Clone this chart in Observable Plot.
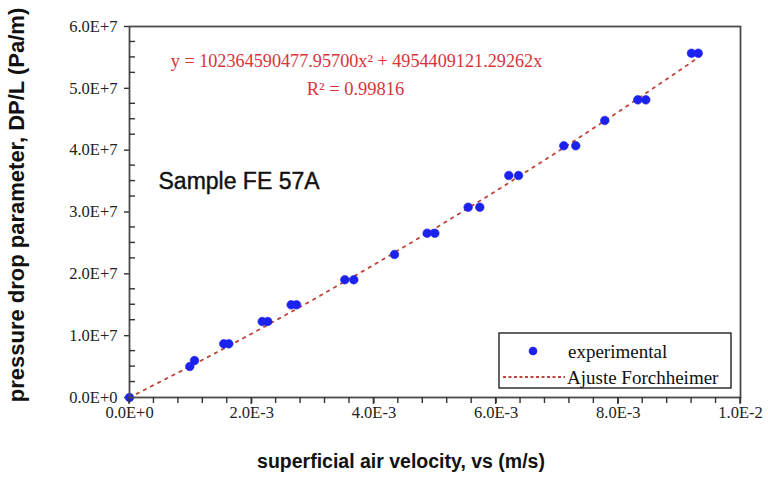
<!DOCTYPE html>
<html>
<head>
<meta charset="utf-8">
<script src="https://cdn.jsdelivr.net/npm/d3@7"></script>
<script src="https://cdn.jsdelivr.net/npm/@observablehq/plot@0.6"></script>
<style>
  html, body { margin: 0; padding: 0; background: white; }
</style>
</head>
<body>
<div id="chart"></div>
<script>
// experimental points: superficial air velocity (m/s) and pressure drop parameter (Pa/m)
const velocity = [0, 0.000987, 0.001064, 0.001543, 0.001625, 0.002172, 0.002263, 0.002646, 0.002733,
  0.003524, 0.003671, 0.004337, 0.004872, 0.004997, 0.005543, 0.005733, 0.006208, 0.006367,
  0.007108, 0.007304, 0.007779, 0.008319, 0.008450, 0.009198, 0.009308];
const pressureDrop = [0, 5.01e6, 5.98e6, 8.68e6, 8.68e6, 1.229e7, 1.229e7, 1.499e7, 1.499e7,
  1.904e7, 1.904e7, 2.313e7, 2.657e7, 2.657e7, 3.078e7, 3.078e7, 3.590e7, 3.590e7,
  4.071e7, 4.071e7, 4.480e7, 4.814e7, 4.814e7, 5.568e7, 5.568e7];

// Forchheimer fit curve
const fitVelocity = [0, 0.001, 0.002, 0.003, 0.004, 0.005, 0.006, 0.007, 0.008, 0.009, 0.0094];
const fitPressure = [0, 5.06e6, 1.032e7, 1.578e7, 2.146e7, 2.733e7, 3.341e7, 3.970e7, 4.619e7, 5.288e7, 5.562e7];

// axes
const xTicks = [0, 0.002, 0.004, 0.006, 0.008, 0.01];
const xTickLabels = ["0.0E+0", "2.0E-3", "4.0E-3", "6.0E-3", "8.0E-3", "1.0E-2"];
const xMinorTicks = [0.0004, 0.0008, 0.0012, 0.0016, 0.0024, 0.0028, 0.0032, 0.0036, 0.0044, 0.0048, 0.0052, 0.0056,
  0.0064, 0.0068, 0.0072, 0.0076, 0.0084, 0.0088, 0.0092, 0.0096];
const yTicks = [0, 1e7, 2e7, 3e7, 4e7, 5e7, 6e7];
const yTickLabels = ["0.0E+0", "1.0E+7", "2.0E+7", "3.0E+7", "4.0E+7", "5.0E+7", "6.0E+7"];
const yMinorTicks = [2.5e6, 5e6, 7.5e6, 1.25e7, 1.5e7, 1.75e7, 2.25e7, 2.5e7, 2.75e7, 3.25e7, 3.5e7, 3.75e7,
  4.25e7, 4.5e7, 4.75e7, 5.25e7, 5.5e7, 5.75e7];

const xTitle = "superficial air velocity, vs (m/s)";
const yTitle = "pressure drop parameter, DP/L (Pa/m)";
const sampleLabel = "Sample FE 57A";
const equation = "y = 102364590477.95700x² + 4954409121.29262x";
const rSquared = "R² = 0.99816";
const legendLabels = ["experimental", "Ajuste Forchheimer"];

const points = velocity.map((v, i) => ({v, p: pressureDrop[i]}));
const fit = fitVelocity.map((v, i) => ({v, p: fitPressure[i]}));

const dotColor = "#1c22ee";
const fitColor = "#c0443a";
const axisColor = "#333";
const sansFont = "'Liberation Sans', Arial, sans-serif";
const serifFont = "'Liberation Serif', 'Times New Roman', serif";

const chart = Plot.plot({
  width: 768,
  height: 489,
  marginLeft: 129,
  marginRight: 28,
  marginTop: 26,
  marginBottom: 92,
  style: {background: "white", fontFamily: serifFont, fontSize: "16.5px", color: "#222"},
  x: {domain: [0, 0.01]},
  y: {domain: [0, 6e7]},
  marks: [
    Plot.axisX({ticks: xTicks, tickFormat: d => xTickLabels[xTicks.indexOf(d)], tickSize: 6, tickPadding: 3,
      label: null, stroke: axisColor, strokeWidth: 1.4, fontSize: 16.5}),
    Plot.axisY({ticks: yTicks, tickFormat: d => yTickLabels[yTicks.indexOf(d)], tickSize: 5, tickPadding: 7,
      label: null, stroke: axisColor, strokeWidth: 1.4, strokeOpacity: 1, fontSize: 16.5}),
    Plot.line(fit, {x: "v", y: "p", stroke: fitColor, strokeWidth: 1.8, strokeDasharray: "2.5,5.5"}),
    Plot.dot(points, {x: "v", y: "p", r: 4.3, fill: dotColor, stroke: dotColor, strokeWidth: 0.6}),
    Plot.frame({stroke: "#4a4a4a", strokeWidth: 1.8}),
    Plot.text([yTitle], {frameAnchor: "left", dx: -113, dy: -7, rotate: -90, textAnchor: "middle",
      lineAnchor: "middle", fontSize: 22, fontWeight: "bold", fontFamily: sansFont, fill: "#111"}),
    Plot.text([xTitle], {frameAnchor: "bottom", dx: -34, dy: 70, textAnchor: "middle", fontSize: 19.5,
      fontWeight: "bold", fontFamily: sansFont, fill: "#111"}),
    Plot.text([sampleLabel], {frameAnchor: "top-left", dx: 29, dy: 155, textAnchor: "start", lineAnchor: "middle",
      fontSize: 23, fontFamily: sansFont, fill: "#111", stroke: "#111", strokeWidth: 0.4}),
    Plot.text([equation], {frameAnchor: "top-left", dx: 227, dy: 35, textAnchor: "middle", lineAnchor: "middle",
      fontSize: 18.2, fontFamily: serifFont, fill: "#d8343a"}),
    Plot.text([rSquared], {frameAnchor: "top-left", dx: 226, dy: 63, textAnchor: "middle", lineAnchor: "middle",
      fontSize: 18.5, fontFamily: serifFont, fill: "#d8343a"})
  ]
});

const svg = d3.select(chart);
const sx = chart.scale("x");
const sy = chart.scale("y");
const x0 = sx.apply(0), y0 = sy.apply(0);

// tick marks drawn from the plot's own scales
const ticks = svg.append("g").attr("stroke", axisColor).attr("stroke-width", 1.4);
// x ticks: major and minor, outward (down)
ticks.selectAll("line.xt").data(xTicks.concat(xMinorTicks)).join("line")
  .attr("class", "xt")
  .attr("x1", d => sx.apply(d)).attr("x2", d => sx.apply(d))
  .attr("y1", y0).attr("y2", (d) => y0 + (xTicks.includes(d) ? 7 : 6));
// y minor ticks: inward (right)
ticks.selectAll("line.yt").data(yMinorTicks).join("line")
  .attr("class", "yt")
  .attr("x1", x0).attr("x2", x0 + 6)
  .attr("y1", d => sy.apply(d)).attr("y2", d => sy.apply(d));

// legend box
const lg = svg.append("g");
lg.append("rect").attr("x", 499).attr("y", 333).attr("width", 232).attr("height", 55)
  .attr("fill", "white").attr("stroke", "#111").attr("stroke-width", 1.3);
lg.append("circle").attr("cx", 533).attr("cy", 351).attr("r", 4.3).attr("fill", dotColor);
lg.append("line").attr("x1", 503).attr("x2", 565).attr("y1", 377).attr("y2", 377)
  .attr("stroke", fitColor).attr("stroke-width", 2).attr("stroke-dasharray", "3,2.5");
lg.selectAll("text").data(legendLabels).join("text")
  .attr("x", (d, i) => i === 0 ? 568 : 567)
  .attr("y", (d, i) => i === 0 ? 351 : 377)
  .attr("dy", "0.35em")
  .attr("text-anchor", "start")
  .attr("font-family", serifFont)
  .attr("font-size", 19)
  .attr("fill", "#111")
  .text(d => d);

document.getElementById("chart").appendChild(chart);
</script>
</body>
</html>
